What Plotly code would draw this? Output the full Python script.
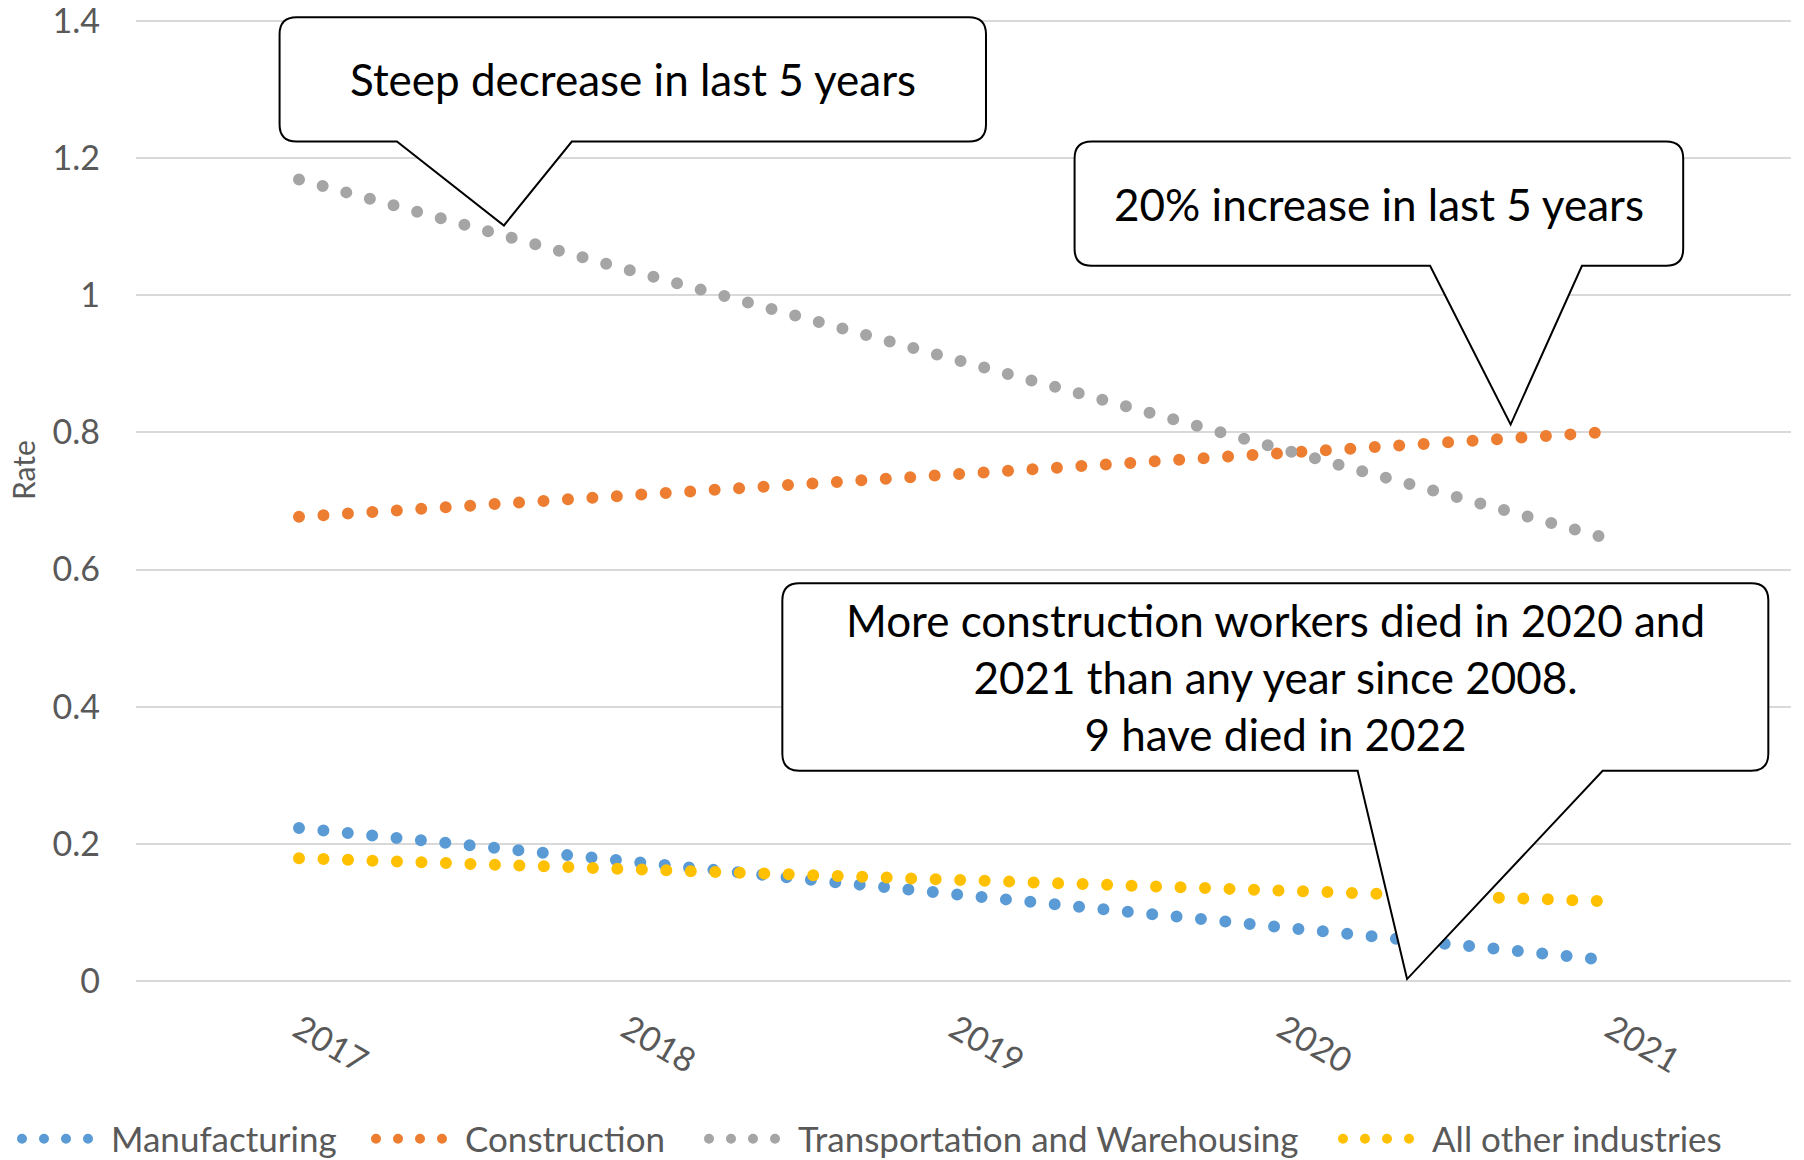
import plotly.graph_objects as go

YEARS = [2017, 2018, 2019, 2020, 2021]
YEAR_LABELS = ["2017", "2018", "2019", "2020", "2021"]

MANUFACTURING = [0.223, 0.175, 0.127, 0.078, 0.030]
CONSTRUCTION = [0.677, 0.708, 0.739, 0.770, 0.801]
TRANSPORTATION = [1.169, 1.037, 0.906, 0.775, 0.644]
ALL_OTHER = [0.179, 0.163, 0.148, 0.132, 0.116]

SERIES = [
    ("Manufacturing", MANUFACTURING, "#5B9BD5", 255),
    ("Construction", CONSTRUCTION, "#ED7D31", 234),
    ("Transportation and Warehousing", TRANSPORTATION, "#A5A5A5", 535),
    ("All other industries", ALL_OTHER, "#FFC000", 0),
]

CALLOUTS = [
    "Steep decrease in last 5 years",
    "20% increase in last 5 years",
    "More construction workers died in 2020 and<br>2021 than any year since 2008.<br>9 have died in 2022",
]

FONT = "Lato, 'Open Sans', sans-serif"
SCALE = 1804 / 1568

# plot area in pixels (used to place the callout boxes)
PLOT_L, PLOT_R, PLOT_T, PLOT_B = 136, 1791, 18, 984


def px_x(x):
    return (x - PLOT_L) / (PLOT_R - PLOT_L)


def px_y(y):
    return (PLOT_B - y) / (PLOT_B - PLOT_T)


def callout_path(left, top, right, bottom, base1, base2, tip, r=17):
    pts = [
        ("M", (left + r, top)),
        ("L", (right - r, top)),
        ("Q", (right, top), (right, top + r)),
        ("L", (right, bottom - r)),
        ("Q", (right, bottom), (right - r, bottom)),
        ("L", (base2, bottom)),
        ("L", tip),
        ("L", (base1, bottom)),
        ("L", (left + r, bottom)),
        ("Q", (left, bottom), (left, bottom - r)),
        ("L", (left, top + r)),
        ("Q", (left, top), (left + r, top)),
    ]
    parts = []
    for cmd, *coords in pts:
        xy = " ".join(f"{px_x(x):.5f},{px_y(y):.5f}" for x, y in coords)
        parts.append(f"{cmd} {xy}")
    return " ".join(parts) + " Z"


fig = go.Figure()

for name, values, color, legend_w in SERIES:
    fig.add_trace(
        go.Scatter(
            x=YEARS,
            y=values,
            name=name,
            mode="lines",
            line=dict(color=color, width=12, dash="0px,24.5px"),
            legendwidth=legend_w,
        )
    )

# box edges, pointer base and tip (shrunk px)
boxes = [
    (243, 15, 857, 123, 345, 497, (438, 196)),
    (934, 123, 1463, 231, 1243, 1375, (1313, 369)),
    (680, 507, 1537, 670, 1180, 1393, (1223, 851)),
]

for (left, top, right, bottom, b1, b2, tip), text in zip(boxes, CALLOUTS):
    left, top, right, bottom, b1, b2 = (v * SCALE for v in (left, top, right, bottom, b1, b2))
    tip = (tip[0] * SCALE, tip[1] * SCALE)
    fig.add_shape(
        type="path",
        xref="paper",
        yref="paper",
        path=callout_path(left, top, right, bottom, b1, b2, tip),
        fillcolor="white",
        line=dict(color="black", width=2),
        layer="above",
    )
    fig.add_annotation(
        x=px_x((left + right) / 2),
        y=px_y((top + bottom) / 2),
        xref="paper",
        yref="paper",
        text=text,
        showarrow=False,
        font=dict(family=FONT, size=44, color="black"),
        xanchor="center",
        yanchor="middle",
    )

# y axis title, placed where Excel puts it
fig.add_annotation(
    x=px_x(23),
    y=px_y(470),
    xref="paper",
    yref="paper",
    text="Rate",
    textangle=-90,
    showarrow=False,
    font=dict(family=FONT, size=30, color="#595959"),
    xanchor="center",
    yanchor="middle",
)

fig.update_layout(
    width=1804,
    height=1160,
    margin=dict(l=PLOT_L, r=1804 - PLOT_R, t=PLOT_T, b=1160 - PLOT_B, autoexpand=False),
    plot_bgcolor="white",
    paper_bgcolor="white",
    font=dict(family=FONT, size=34, color="#595959"),
    legend=dict(
        orientation="h",
        xref="paper",
        yref="paper",
        x=px_x(17),
        y=px_y(1139),
        xanchor="left",
        yanchor="middle",
        font=dict(size=35, color="#595959"),
        itemwidth=84,
    ),
)

fig.update_xaxes(
    range=[2016.503, 2021.549],
    tickvals=YEARS,
    ticktext=YEAR_LABELS,
    tickangle=30,
    showgrid=False,
    zeroline=False,
    showline=False,
    ticks="",
    ticklabelstandoff=18,
)

fig.update_yaxes(
    range=[-0.0044, 1.4044],
    dtick=0.2,
    showgrid=True,
    gridcolor="#D9D9D9",
    gridwidth=1.5,
    zeroline=False,
    showline=False,
    ticks="",
    ticklabelstandoff=35,
    ticklabeloverflow="allow",
)

post = """
document.body.style.margin = '0';
document.body.style.overflow = 'hidden';
var gd = document.getElementsByClassName('plotly-graph-div')[0];
function roundDots() {
  gd.querySelectorAll('path.js-line').forEach(function (p) {
    p.style.strokeLinecap = 'round';
  });
  gd.querySelectorAll('.legend path.js-line').forEach(function (p) {
    p.style.strokeDasharray = '0px,22px';
  });
}
roundDots();
gd.on('plotly_afterplot', roundDots);
"""

fig.write_html("out.html", post_script=post, config={"displayModeBar": False})
